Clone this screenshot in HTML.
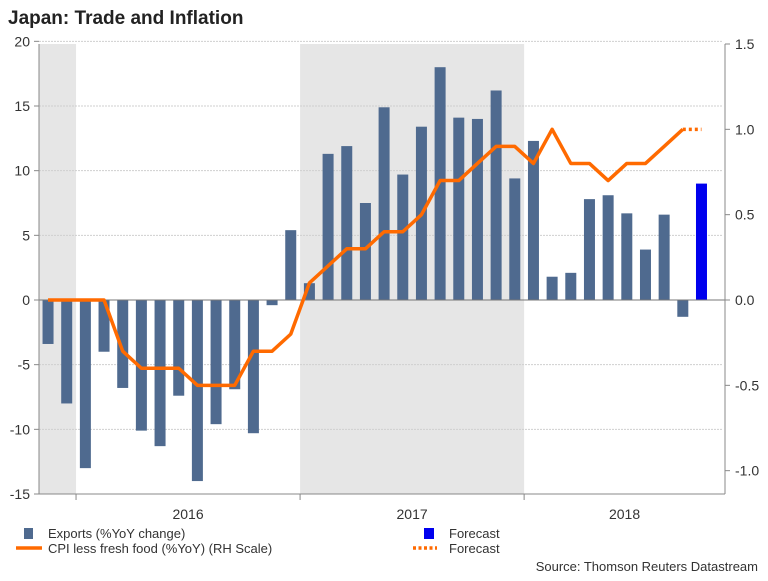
<!DOCTYPE html>
<html><head><meta charset="utf-8"><style>
body{margin:0;background:#fff;font-family:"Liberation Sans",Arial,sans-serif;}
svg text{font-family:"Liberation Sans",Arial,sans-serif;}
</style></head><body>
<svg id="c" width="768" height="576" xmlns="http://www.w3.org/2000/svg">
<text x="8" y="24" font-size="19" font-weight="bold" fill="#222">Japan: Trade and Inflation</text>
<g id="plot"></g>
</svg>
<script>
const exportsVals=[-3.4,-8.0,-13.0,-4.0,-6.8,-10.1,-11.3,-7.4,-14.0,-9.6,-6.9,-10.3,-0.4,5.4,1.3,11.3,11.9,7.5,14.9,9.7,13.4,18.0,14.1,14.0,16.2,9.4,12.3,1.8,2.1,7.8,8.1,6.7,3.9,6.6,-1.3,9.0];
const cpiVals=[0,0,0,0,-0.3,-0.4,-0.4,-0.4,-0.5,-0.5,-0.5,-0.3,-0.3,-0.2,0.1,0.2,0.3,0.3,0.4,0.4,0.5,0.7,0.7,0.8,0.9,0.9,0.8,1.0,0.8,0.8,0.7,0.8,0.8,0.9,1.0,1.0];
const leftTicks=[20,15,10,5,0,-5,-10,-15];
const rightTicks=[1.5,1.0,0.5,0.0,-0.5,-1.0];
const years=["2016","2017","2018"];
const forecastIndex=35;
const NS="http://www.w3.org/2000/svg";
const g=document.getElementById('plot');
const L=39,R=725,T=44,B=494,slot=18.67,x0=38.7;
const yL=v=>300-v*(B-300)/15;
const yR=v=>300-v*(300-T)/1.5;
const xS=i=>x0+slot*(i+0.5);
function mk(t,a){const e=document.createElementNS(NS,t);for(const k in a)e.setAttribute(k,a[k]);g.appendChild(e);return e;}
// shaded years
let e;
e=mk('rect',{x:L,y:T,width:x0+2*slot-L,height:B-T,fill:'#e6e6e6'});


e=mk('rect',{x:x0+14*slot,y:T,width:12*slot,height:B-T,fill:'#e6e6e6'});


// gridlines + left ticks
leftTicks.forEach(v=>{const y=yL(v);
 if(v!==-15){e=mk('line',{x1:L,x2:R-2,y1:y,y2:y,stroke:'#cfcfcf','stroke-dasharray':'2,1'});
 
 }
 mk('line',{x1:L-5,x2:L,y1:y,y2:y,stroke:'#888'});
 e=mk('text',{x:L-9,y:y+5,'text-anchor':'end','font-size':14,fill:'#333'});e.textContent=v;
 
 });
rightTicks.forEach(v=>{const y=yR(v);
 mk('line',{x1:R,x2:R+5,y1:y,y2:y,stroke:'#888'});
 e=mk('text',{x:R+10,y:y+5,'font-size':14,fill:'#333'});e.textContent=v.toFixed(1);
 
 });
// bars
exportsVals.forEach((v,i)=>{const y=Math.min(yL(v),yL(0));
 e=mk('rect',{x:xS(i)-5.5,y:y,width:11,height:Math.abs(yL(v)-yL(0)),fill:i===forecastIndex?'#0000ee':'#4f6a8f'});
 
 });
// zero line
mk('line',{x1:L,x2:R,y1:yL(0),y2:yL(0),stroke:'#777','stroke-width':1});
// cpi line
let d='';for(let i=0;i<forecastIndex;i++)d+=(i?'L':'M')+xS(i)+','+yR(cpiVals[i]);
e=mk('path',{d:d,fill:'none',stroke:'#ff6a00','stroke-width':3.5,'stroke-linejoin':'round'});


e=mk('path',{d:'M'+xS(forecastIndex-1)+','+yR(cpiVals[forecastIndex-1])+'L'+xS(forecastIndex)+','+yR(cpiVals[forecastIndex]),fill:'none',stroke:'#ff6a00','stroke-width':3.5,'stroke-dasharray':'3,3'});


// axes
mk('line',{x1:L,x2:L,y1:T,y2:B,stroke:'#888'});
mk('line',{x1:R,x2:R,y1:T,y2:B,stroke:'#888'});
mk('line',{x1:L,x2:R,y1:B,y2:B,stroke:'#888'});
years.forEach((yr,k)=>{const xa=x0+(2+12*k)*slot;
 mk('line',{x1:xa,x2:xa,y1:B,y2:B+6,stroke:'#888'});
 const xe=Math.min(x0+(14+12*k)*slot,R);
 e=mk('text',{x:(xa+xe)/2,y:B+25,'text-anchor':'middle','font-size':14,fill:'#333'});e.textContent=yr;
 
 });
// legend
mk('rect',{x:24,y:528,width:9,height:11,fill:'#4f6a8f'});
mk('line',{x1:16,x2:42,y1:548,y2:548,stroke:'#ff6a00','stroke-width':3.5});
mk('rect',{x:424,y:528,width:10,height:11,fill:'#0000ee'});
mk('line',{x1:413,x2:437,y1:548,y2:548,stroke:'#ff6a00','stroke-width':3.5,'stroke-dasharray':'3,2.5'});
[[48,538,'Exports (%YoY change)'],[48,553,'CPI less fresh food (%YoY) (RH Scale)'],[449,538,'Forecast'],[449,553,'Forecast']].forEach(a=>{
 e=mk('text',{x:a[0],y:a[1],'font-size':13,fill:'#333'});e.textContent=a[2];
 
 });
e=mk('text',{x:758,y:571,'text-anchor':'end','font-size':13,fill:'#333'});e.textContent='Source: Thomson Reuters Datastream';


</script>
</body></html>
